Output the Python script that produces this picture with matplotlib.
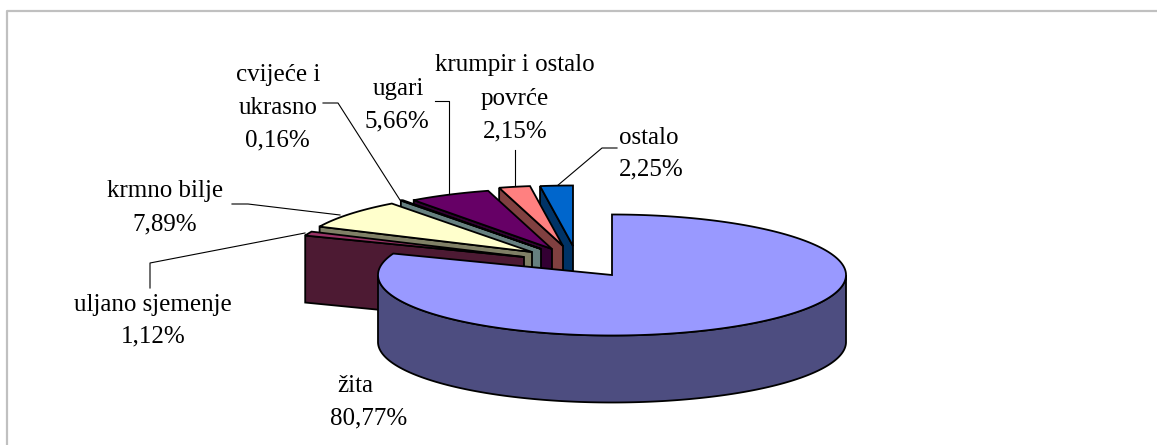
import numpy as np
import matplotlib
matplotlib.use("Agg")
import matplotlib.pyplot as plt
from matplotlib.patches import Polygon

categories = ["žita", "uljano sjemenje", "krmno bilje", "cvijeće i ukrasno",
              "ugari", "krumpir i ostalo povrće", "ostalo"]
values = [80.77, 1.12, 7.89, 0.16, 5.66, 2.15, 2.25]
value_labels = ["80,77%", "1,12%", "7,89%", "0,16%", "5,66%", "2,15%", "2,25%"]
top_colors = ["#9999FF", "#993366", "#FFFFCC", "#CCFFFF", "#660066", "#FF8080", "#0066CC"]
wall_colors = ["#4D4D80", "#4D1A33", "#808066", "#668080", "#330033", "#804040", "#003366"]

# layout (pixels)
CX, CY, RX, RY, DEPTH = 612.0, 275.0, 234.0, 60.5, 67.0
explode_dx = [0, -88, -80, -71, -60, -49, -39]
explode_dy = [0, -18, -23, -26, -26, -29, -29]

fig = plt.figure(figsize=(11.57, 4.45), dpi=100)
ax = fig.add_axes([0, 0, 1, 1])
ax.set_xlim(0, 1157)
ax.set_ylim(445, 0)
ax.axis("off")

FONT = {"family": "Liberation Serif", "fontsize": 18, "color": "black",
        "ha": "center", "va": "center"}
LW = 1.3

# frame
ax.plot([7, 7, 1157], [445, 11, 11], color="#C0C0C0", lw=1.6, solid_capstyle="butt")


def arc(a0, a1, ox, oy):
    t = np.radians(np.linspace(a0, a1, max(int(abs(a1 - a0) * 2), 2)))
    return np.column_stack([ox + RX * np.sin(t), oy - RY * np.cos(t)])


edges = np.concatenate([[0], np.cumsum(values)])
edges = edges / edges[-1] * 360

z = 2
for i in range(len(values) - 1, 0, -1):
    a0, a1 = edges[i], edges[i + 1]
    ox, oy = CX + explode_dx[i], CY + explode_dy[i]
    rim = arc(a0, a1, ox, oy)
    o = rim[0]
    wall = [[ox, oy], o, [o[0], o[1] + DEPTH], [ox, oy + DEPTH]]
    ax.add_patch(Polygon(wall, closed=True, fc=wall_colors[i], ec="black", lw=LW, zorder=z))
    top = np.vstack([[ox, oy], rim])
    ax.add_patch(Polygon(top, closed=True, fc=top_colors[i], ec="black", lw=LW, zorder=z + 0.5))
    z += 1

# main slice
t = arc(edges[0], edges[1], CX, CY)
front_top = arc(90, 270, CX, CY)
front_wall = np.vstack([front_top, (front_top + [0, DEPTH])[::-1]])
ax.add_patch(Polygon(front_wall, closed=True, fc=wall_colors[0], ec="black", lw=LW, zorder=z))
ax.add_patch(Polygon(np.vstack([[CX, CY], t]), closed=True, fc=top_colors[0], ec="black", lw=LW, zorder=z + 0.5))

# leader lines
leaders = [
    ([323, 338, 400], [103, 103, 200]),
    ([435, 449, 449], [101, 101, 193]),
    ([515, 515], [150, 187]),
    ([617, 602, 557], [148, 148, 186]),
    ([232, 248, 340], [204, 204, 215]),
    ([150, 150, 305], [288, 263, 233]),
]
for xs, ys in leaders:
    ax.plot(xs, ys, color="black", lw=0.8, zorder=1)

# labels
text_rows = [
    (278, 73, "cvijeće i"), (278, 107, "ukrasno"), (277, 139, value_labels[3]),
    (398, 88, "ugari"), (397, 120, value_labels[4]),
    (515, 64, "krumpir i ostalo"), (515, 98, "povrće"), (515, 130, value_labels[5]),
    (649, 136, "ostalo"), (651, 168, value_labels[6]),
    (165, 190, "krmno bilje"), (165, 223, value_labels[2]),
    (153, 303, "uljano sjemenje"), (153, 335, value_labels[1]),
    (355, 385, "žita"), (369, 417, value_labels[0]),
]
for x, y, s in text_rows:
    ax.text(x, y + 1.5, s, zorder=20, **FONT)

fig.savefig("out.png", dpi=100, facecolor="white")
